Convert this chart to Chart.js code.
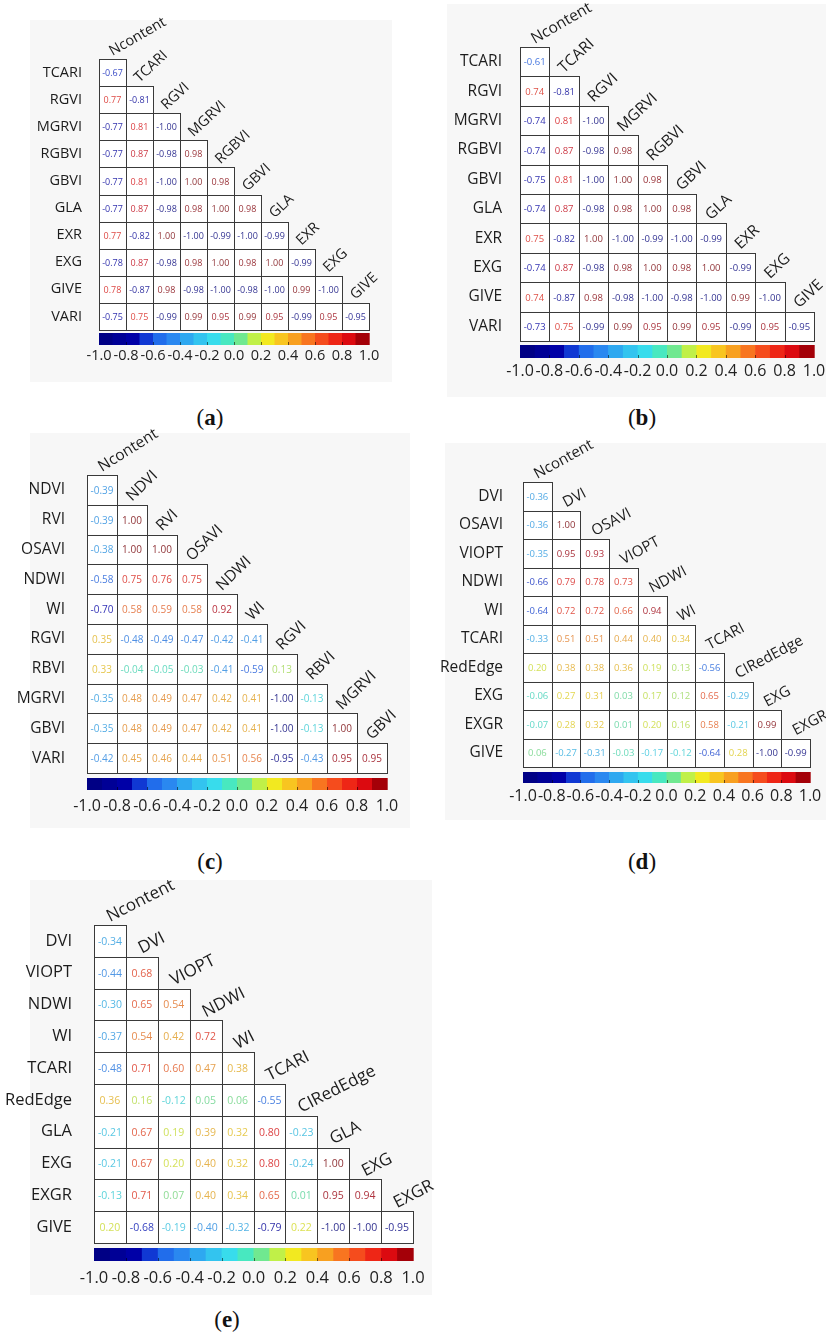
<!DOCTYPE html>
<html>
<head>
<meta charset="utf-8">
<script src="https://cdn.jsdelivr.net/npm/chart.js@4.4.1/dist/chart.umd.min.js"></script>
<style>
  html, body { margin: 0; padding: 0; background: #fff; overflow: hidden; }
  body { width: 826px; height: 1340px; position: relative; }
  .bg { position: absolute; background: #f7f7f7; }
  canvas { position: absolute; display: block; }
  .cap { position: absolute; transform: translate(-50%, -50%); font-family: 'Liberation Serif', serif; font-size: 23px; color: #111; }
  .cap b { font-weight: bold; }
</style>
</head>
<body>
<script>
// ---- data: (a)
const colsA = ['Ncontent', 'TCARI', 'RGVI', 'MGRVI', 'RGBVI', 'GBVI', 'GLA', 'EXR', 'EXG', 'GIVE'];
const rowsA = ['TCARI', 'RGVI', 'MGRVI', 'RGBVI', 'GBVI', 'GLA', 'EXR', 'EXG', 'GIVE', 'VARI'];
const valsA = [
  [-0.67],
  [0.77, -0.81],
  [-0.77, 0.81, -1.00],
  [-0.77, 0.87, -0.98, 0.98],
  [-0.77, 0.81, -1.00, 1.00, 0.98],
  [-0.77, 0.87, -0.98, 0.98, 1.00, 0.98],
  [0.77, -0.82, 1.00, -1.00, -0.99, -1.00, -0.99],
  [-0.78, 0.87, -0.98, 0.98, 1.00, 0.98, 1.00, -0.99],
  [0.78, -0.87, 0.98, -0.98, -1.00, -0.98, -1.00, 0.99, -1.00],
  [-0.75, 0.75, -0.99, 0.99, 0.95, 0.99, 0.95, -0.99, 0.95, -0.95]
];

// ---- data: (b)
const colsB = colsA;
const rowsB = rowsA;
const valsB = [
  [-0.61],
  [0.74, -0.81],
  [-0.74, 0.81, -1.00],
  [-0.74, 0.87, -0.98, 0.98],
  [-0.75, 0.81, -1.00, 1.00, 0.98],
  [-0.74, 0.87, -0.98, 0.98, 1.00, 0.98],
  [0.75, -0.82, 1.00, -1.00, -0.99, -1.00, -0.99],
  [-0.74, 0.87, -0.98, 0.98, 1.00, 0.98, 1.00, -0.99],
  [0.74, -0.87, 0.98, -0.98, -1.00, -0.98, -1.00, 0.99, -1.00],
  [-0.73, 0.75, -0.99, 0.99, 0.95, 0.99, 0.95, -0.99, 0.95, -0.95]
];

// ---- data: (c)
const colsC = ['Ncontent', 'NDVI', 'RVI', 'OSAVI', 'NDWI', 'WI', 'RGVI', 'RBVI', 'MGRVI', 'GBVI'];
const rowsC = ['NDVI', 'RVI', 'OSAVI', 'NDWI', 'WI', 'RGVI', 'RBVI', 'MGRVI', 'GBVI', 'VARI'];
const valsC = [
  [-0.39],
  [-0.39, 1.00],
  [-0.38, 1.00, 1.00],
  [-0.58, 0.75, 0.76, 0.75],
  [-0.70, 0.58, 0.59, 0.58, 0.92],
  [0.35, -0.48, -0.49, -0.47, -0.42, -0.41],
  [0.33, -0.04, -0.05, -0.03, -0.41, -0.59, 0.13],
  [-0.35, 0.48, 0.49, 0.47, 0.42, 0.41, -1.00, -0.13],
  [-0.35, 0.48, 0.49, 0.47, 0.42, 0.41, -1.00, -0.13, 1.00],
  [-0.42, 0.45, 0.46, 0.44, 0.51, 0.56, -0.95, -0.43, 0.95, 0.95]
];

// ---- data: (d)
const colsD = ['Ncontent', 'DVI', 'OSAVI', 'VIOPT', 'NDWI', 'WI', 'TCARI', 'CIRedEdge', 'EXG', 'EXGR'];
const rowsD = ['DVI', 'OSAVI', 'VIOPT', 'NDWI', 'WI', 'TCARI', 'RedEdge', 'EXG', 'EXGR', 'GIVE'];
const valsD = [
  [-0.36],
  [-0.36, 1.00],
  [-0.35, 0.95, 0.93],
  [-0.66, 0.79, 0.78, 0.73],
  [-0.64, 0.72, 0.72, 0.66, 0.94],
  [-0.33, 0.51, 0.51, 0.44, 0.40, 0.34],
  [0.20, 0.38, 0.38, 0.36, 0.19, 0.13, -0.56],
  [-0.06, 0.27, 0.31, 0.03, 0.17, 0.12, 0.65, -0.29],
  [-0.07, 0.28, 0.32, 0.01, 0.20, 0.16, 0.58, -0.21, 0.99],
  [0.06, -0.27, -0.31, -0.03, -0.17, -0.12, -0.64, 0.28, -1.00, -0.99]
];

// ---- data: (e)
const colsE = ['Ncontent', 'DVI', 'VIOPT', 'NDWI', 'WI', 'TCARI', 'CIRedEdge', 'GLA', 'EXG', 'EXGR'];
const rowsE = ['DVI', 'VIOPT', 'NDWI', 'WI', 'TCARI', 'RedEdge', 'GLA', 'EXG', 'EXGR', 'GIVE'];
const valsE = [
  [-0.34],
  [-0.44, 0.68],
  [-0.30, 0.65, 0.54],
  [-0.37, 0.54, 0.42, 0.72],
  [-0.48, 0.71, 0.60, 0.47, 0.38],
  [0.36, 0.16, -0.12, 0.05, 0.06, -0.55],
  [-0.21, 0.67, 0.19, 0.39, 0.32, 0.80, -0.23],
  [-0.21, 0.67, 0.20, 0.40, 0.32, 0.80, -0.24, 1.00],
  [-0.13, 0.71, 0.07, 0.40, 0.34, 0.65, 0.01, 0.95, 0.94],
  [0.20, -0.68, -0.19, -0.40, -0.32, -0.79, 0.22, -1.00, -1.00, -0.95]
];

// colour bar ticks
const cbTicks = [-1.0, -0.8, -0.6, -0.4, -0.2, 0.0, 0.2, 0.4, 0.6, 0.8, 1.0];
const cbSteps = 20;

// jet-like colour map used in the figure
const cmapStops = [
  [-1.0, '#00007c'], [-0.7, '#0000b0'], [-0.62, '#1a5ae8'], [-0.45, '#2a88f0'],
  [-0.3, '#30b8f0'], [-0.15, '#38dcec'], [-0.05, '#48e8c0'], [0.05, '#70e890'],
  [0.15, '#c0f048'], [0.23, '#f0f020'], [0.32, '#f8d020'], [0.45, '#f8a020'],
  [0.6, '#f86020'], [0.72, '#f03018'], [0.82, '#e81010'], [0.9, '#c80010'], [1.0, '#800000']
];

const hexRgb = (h) => [1, 3, 5].map((i) => parseInt(h.slice(i, i + 2), 16));

const cmapRgb = (v) => {
  for (let k = 1; k < cmapStops.length; k++) {
    const [v1, c1] = cmapStops[k];
    if (v <= v1) {
      const [v0, c0] = cmapStops[k - 1];
      const t = (v - v0) / (v1 - v0);
      const a = hexRgb(c0), b = hexRgb(c1);
      return a.map((x, i) => Math.round(x + (b[i] - x) * t));
    }
  }
  return hexRgb(cmapStops[cmapStops.length - 1][1]);
};

const rgbStr = (c) => `rgb(${c[0]},${c[1]},${c[2]})`;
const textColor = (v) => {
  const c = cmapRgb(v);
  const g = [185, 185, 200];
  return rgbStr(c.map((x, i) => Math.round(x * 0.72 + g[i] * 0.28)));
};

// draws cells, values, rotated column titles and the colour bar
const matrixPlugin = {
  id: 'matrix',
  afterDatasetsDraw(chart, args, o) {
    const { ctx, chartArea } = chart;
    const xs = chart.scales.x, ys = chart.scales.y, cb = chart.scales.cb;
    const n = xs.getLabels().length;
    const cw = xs.width / n, ch = ys.height / n;
    const ds = chart.data.datasets[0];
    const meta = chart.getDatasetMeta(0);

    ctx.save();
    ctx.fillStyle = '#fff';
    meta.data.forEach((pt) => ctx.fillRect(pt.x - cw / 2, pt.y - ch / 2, cw, ch));
    ctx.strokeStyle = '#3a3a3a';
    ctx.lineWidth = 1;
    meta.data.forEach((pt) => {
      const x0 = Math.round(pt.x - cw / 2), x1 = Math.round(pt.x + cw / 2);
      const y0 = Math.round(pt.y - ch / 2), y1 = Math.round(pt.y + ch / 2);
      ctx.strokeRect(x0 + 0.5, y0 + 0.5, x1 - x0, y1 - y0);
    });

    ctx.font = `${o.valueSize}px 'Open Sans'`;
    ctx.textAlign = 'center';
    ctx.textBaseline = 'middle';
    meta.data.forEach((pt, k) => {
      const v = ds.data[k].v;
      ctx.fillStyle = textColor(v);
      ctx.fillText(v.toFixed(2), pt.x, pt.y + 1);
    });

    // column titles along the staircase
    ctx.font = `${o.colSize}px 'Open Sans'`;
    ctx.fillStyle = '#1c1c1c';
    ctx.textAlign = 'left';
    ctx.textBaseline = 'alphabetic';
    xs.getLabels().forEach((lab, j) => {
      const x = xs.getPixelForValue(j);
      const y = ys.getPixelForValue(j) - ch / 2 - 3;
      const ang = j === 0 ? o.firstAngle : o.angle;
      ctx.save();
      ctx.translate(x, y);
      ctx.rotate(-ang * Math.PI / 180);
      ctx.fillText(lab, 0, 0);
      ctx.restore();
    });

    // colour bar
    const y0 = chartArea.bottom + o.cbGap;
    const step = (cb.max - cb.min) / cbSteps;
    for (let k = 0; k < cbSteps; k++) {
      const lo = cb.min + k * step;
      const xa = cb.getPixelForValue(lo), xb = cb.getPixelForValue(lo + step);
      ctx.fillStyle = rgbStr(cmapRgb(lo + step / 2));
      ctx.fillRect(xa, y0, xb - xa + 0.7, o.cbH);
    }
    ctx.strokeStyle = 'rgba(0,0,0,0.55)';
    cbTicks.slice(1, -1).forEach((v) => {
      const x = Math.round(cb.getPixelForValue(v)) + 0.5;
      ctx.beginPath();
      ctx.moveTo(x, y0 + o.cbH - 3);
      ctx.lineTo(x, y0 + o.cbH);
      ctx.stroke();
    });
    ctx.restore();
  }
};

// bg: grey panel box, cv: canvas box, grid: matrix box  (left, top, right, bottom)
const panels = [
  { cols: colsA, rows: rowsA, vals: valsA, bg: [30, 20, 392, 382], cv: [10, 2, 400, 382], grid: [99, 59, 369, 330], cap: [210, 418, 'a'],
    angle: 43, firstAngle: 30, rowSize: 14.5, colSize: 14.5, valueSize: 9, rowGap: 17, tickSize: 14.5, cbGap: 3, cbH: 12, cbPad: 17 },
  { cols: colsB, rows: rowsB, vals: valsB, bg: [447, 4, 826, 397], cv: [430, 0, 826, 397], grid: [520, 47, 814, 341], cap: [642, 418, 'b'],
    angle: 43, firstAngle: 30, rowSize: 15.5, colSize: 15.5, valueSize: 9.5, rowGap: 18, tickSize: 16, cbGap: 4, cbH: 13, cbPad: 21 },
  { cols: colsC, rows: rowsC, vals: valsC, bg: [30, 433, 410, 828], cv: [0, 415, 420, 828], grid: [87, 475, 387, 773], cap: [210, 862, 'c'],
    angle: 44, firstAngle: 32, rowSize: 15.5, colSize: 15.5, valueSize: 10, rowGap: 22, tickSize: 16, cbGap: 5, cbH: 12, cbPad: 24 },
  { cols: colsD, rows: rowsD, vals: valsD, bg: [445, 443, 826, 820], cv: [430, 430, 826, 820], grid: [523, 482, 810, 767], cap: [642, 862, 'd'],
    angle: 28, firstAngle: 29, rowSize: 15.5, colSize: 15, valueSize: 9.5, rowGap: 20, tickSize: 16, cbGap: 5, cbH: 11, cbPad: 20 },
  { cols: colsE, rows: rowsE, vals: valsE, bg: [30, 880, 432, 1295], cv: [0, 866, 440, 1295], grid: [94, 925, 413, 1243], cap: [227, 1320, 'e'],
    angle: 27, firstAngle: 27, rowSize: 16.5, colSize: 17, valueSize: 10.5, rowGap: 22, tickSize: 16.5, cbGap: 5, cbH: 13, cbPad: 25 }
];

panels.forEach((p) => {
  const [bl, bt, br, bb] = p.bg;
  const [cl, ct, cr, cbot] = p.cv;
  const [gl, gt, gr, gb] = p.grid;

  const bg = document.createElement('div');
  bg.className = 'bg';
  bg.style.cssText = `left:${bl}px;top:${bt}px;width:${br - bl}px;height:${bb - bt}px`;
  document.body.appendChild(bg);

  const canvas = document.createElement('canvas');
  canvas.width = cr - cl;
  canvas.height = cbot - ct;
  canvas.style.left = cl + 'px';
  canvas.style.top = ct + 'px';
  document.body.appendChild(canvas);

  const cap = document.createElement('div');
  cap.className = 'cap';
  cap.style.left = p.cap[0] + 'px';
  cap.style.top = p.cap[1] + 'px';
  cap.innerHTML = `(<b>${p.cap[2]}</b>)`;
  document.body.appendChild(cap);

  const pts = [];
  p.vals.forEach((row, i) => row.forEach((v, j) => pts.push({ x: p.cols[j], y: p.rows[i], v })));

  new Chart(canvas, {
    type: 'scatter',
    data: { datasets: [{ data: pts, pointRadius: 0, pointHoverRadius: 0 }] },
    options: {
      responsive: false,
      animation: false,
      events: [],
      layout: { padding: { top: gt - ct, right: cr - gr, bottom: 0, left: 0 } },
      plugins: { legend: { display: false }, tooltip: { enabled: false }, matrix: p },
      scales: {
        x: { type: 'category', labels: p.cols, offset: true, display: false },
        y: {
          type: 'category', labels: p.rows, offset: true,
          grid: { display: false, drawTicks: false }, border: { display: false },
          ticks: { autoSkip: false, padding: p.rowGap, color: '#1c1c1c', font: { family: 'Open Sans', size: p.rowSize } },
          afterFit: (s) => { s.width = gl - cl; }
        },
        cb: {
          type: 'linear', axis: 'x', position: 'bottom', min: -1, max: 1,
          grid: { display: false, drawTicks: false }, border: { display: false },
          afterBuildTicks: (s) => { s.ticks = cbTicks.map((v) => ({ value: v })); },
          ticks: {
            autoSkip: false, maxRotation: 0, minRotation: 0, padding: p.cbPad, color: '#222',
            font: { family: 'Open Sans', size: p.tickSize }, callback: (v) => Number(v).toFixed(1)
          },
          afterFit: (s) => { s.height = cbot - gb; s.paddingLeft = 0; s.paddingRight = 0; }
        }
      }
    },
    plugins: [matrixPlugin]
  });
});
</script>
</body>
</html>
